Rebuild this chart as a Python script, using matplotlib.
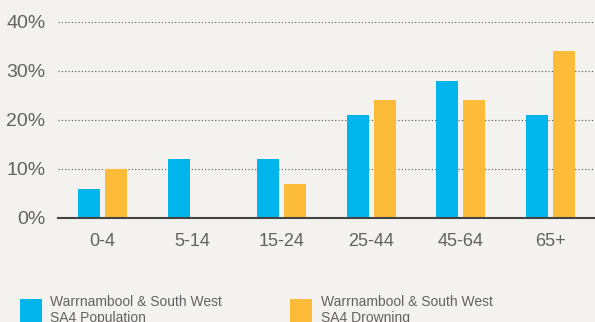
import matplotlib
matplotlib.use("Agg")
import matplotlib.pyplot as plt
import numpy as np
from matplotlib.patches import Patch

categories = ["0-4", "5-14", "15-24", "25-44", "45-64", "65+"]
population = [6, 12, 12, 21, 28, 21]
drowning = [10, 0, 7, 24, 24, 34]
series_labels = ["Warrnambool & South West\nSA4 Population",
                 "Warrnambool & South West\nSA4 Drowning"]
yticks = [0, 10, 20, 30, 40]
ytick_labels = ["0%", "10%", "20%", "30%", "40%"]

bg = "#f3f2ee"
blue = "#00b5ec"
orange = "#fdbb3a"
txt = "#626262"

plt.rcParams['font.family'] = ['Liberation Sans', 'DejaVu Sans']

fig = plt.figure(figsize=(5.95, 3.22), dpi=100, facecolor=bg)
ax = fig.add_axes([58/595, 1-218/322, 1-58/595, (218-22)/322])
ax.set_facecolor(bg)

x = np.arange(len(categories))
w = 0.245
off = 0.15
ax.bar(x - off, population, width=w, color=blue, zorder=3)
ax.bar(x + off, drowning, width=w, color=orange, zorder=3)

ax.set_xlim(-0.5, 5.5)
ax.set_ylim(0, 40)
ax.set_yticks(yticks)
ax.set_yticklabels(ytick_labels)
ax.set_xticks(x)
ax.set_xticklabels(categories)
ax.tick_params(axis='both', length=0, colors=txt)
ax.tick_params(axis='y', pad=9, labelsize=14)
ax.tick_params(axis='x', pad=11, labelsize=13)
for s in ['top', 'right', 'left']:
    ax.spines[s].set_visible(False)
ax.spines['bottom'].set_color('#444444')
ax.spines['bottom'].set_linewidth(1.5)
ax.spines['bottom'].set_zorder(4)
for y in yticks[1:]:
    ax.axhline(y, color='#555555', linestyle=(0, (1, 2)), linewidth=0.8, zorder=1)

handles = [Patch(facecolor=blue, edgecolor='none'), Patch(facecolor=orange, edgecolor='none')]
leg = fig.legend(handles, series_labels, loc='upper left', bbox_to_anchor=(14/595, 1-289/322),
                 ncol=2, frameon=False, fontsize=10, handlelength=1.6, handleheight=2.2,
                 handletextpad=0.6, columnspacing=4.9, labelcolor=txt, borderaxespad=0)

fig.savefig("out.png", dpi=100, facecolor=bg)
